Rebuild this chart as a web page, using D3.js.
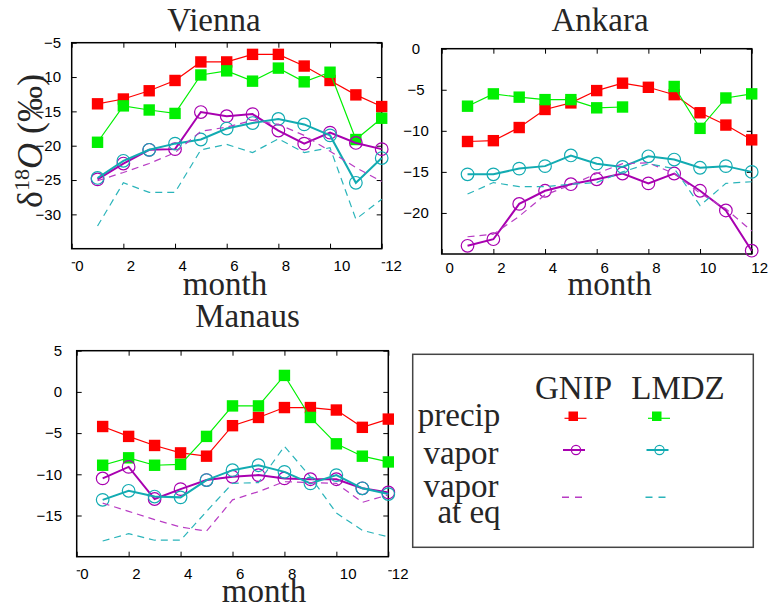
<!DOCTYPE html>
<html>
<head>
<meta charset="utf-8">
<script src="https://cdn.jsdelivr.net/npm/d3@7"></script>
<style>
  body { margin: 0; background: #fff; }
  svg { display: block; }
  .tick text { font-family: "Liberation Sans", Arial, sans-serif; font-size: 15px; fill: #000; }
  .serif { font-family: "Liberation Serif", "Times New Roman", serif; fill: #262626; }
</style>
</head>
<body>
<svg id="chart" width="775" height="604"></svg>
<script>
// ---- data: monthly mean delta-18O (permil) ----
const months = [1, 2, 3, 4, 5, 6, 7, 8, 9, 10, 11, 12];
const xTicks = [0, 2, 4, 6, 8, 10, 12];

// Vienna
const viennaGnipPrecip  = [-13.9, -13.2, -12.0, -10.5, -7.8, -7.8, -6.7, -6.7, -8.4, -10.5, -12.6, -14.3];
const viennaLmdzPrecip  = [-19.5, -14.2, -14.8, -15.3, -9.7, -9.1, -10.6, -8.7, -10.7, -9.3, -19.1, -16.0];
const viennaGnipVapor   = [-24.9, -22.6, -20.6, -20.5, -15.1, -15.7, -15.4, -17.8, -19.7, -18.1, -19.6, -20.5];
const viennaLmdzVapor   = [-24.7, -22.2, -20.6, -19.7, -19.1, -17.5, -16.7, -16.1, -16.9, -18.5, -25.4, -21.8];
const viennaGnipVaporEq = [-25.1, -23.9, -22.6, -21.0, -17.9, -17.3, -16.3, -16.9, -18.5, -20.8, -23.2, -25.2];
const viennaLmdzVaporEq = [-31.7, -25.4, -26.8, -26.8, -20.6, -19.8, -21.0, -19.0, -21.0, -20.3, -30.7, -27.8];
const viennaYTicks = [-30, -25, -20, -15, -10, -5];

// Ankara (no LMDZ precipitation value for August)
const ankaraGnipPrecip  = [-11.3, -11.2, -9.6, -7.4, -6.6, -5.1, -4.2, -4.7, -5.6, -7.8, -9.3, -11.1];
const ankaraLmdzPrecip  = [-7.0, -5.5, -5.9, -6.2, -6.2, -7.2, -7.1, null, -4.6, -9.7, -6.0, -5.5];
const ankaraGnipVapor   = [-24.0, -23.2, -18.9, -17.3, -16.5, -15.9, -15.2, -16.4, -15.2, -17.3, -19.7, -24.6];
const ankaraLmdzVapor   = [-15.3, -15.3, -14.6, -14.3, -13.0, -14.0, -14.4, -13.1, -13.5, -14.5, -14.3, -15.0];
const ankaraGnipVaporEq = [-22.9, -22.6, -20.4, -17.8, -16.6, -15.2, -14.0, -13.9, -15.2, -17.6, -19.5, -22.2];
const ankaraLmdzVaporEq = [-17.7, -16.3, -16.8, -16.8, -16.5, -16.3, -15.0, -14.0, -14.6, -19.1, -16.4, -16.2];
const ankaraYTicks = [-20, -15, -10, -5, 0];

// Manaus
const manausGnipPrecip  = [-4.2, -5.4, -6.5, -7.4, -7.8, -4.1, -3.1, -1.9, -1.9, -2.2, -4.3, -3.3];
const manausLmdzPrecip  = [-8.9, -8.0, -8.9, -8.8, -5.4, -1.7, -1.7, 2.0, -3.1, -6.3, -7.8, -8.5];
const manausGnipVapor   = [-10.5, -9.1, -13.0, -11.8, -10.7, -10.3, -10.1, -10.5, -10.6, -10.6, -11.7, -12.2];
const manausLmdzVapor   = [-13.1, -12.0, -12.7, -12.8, -10.7, -9.5, -8.9, -9.7, -11.1, -10.1, -11.7, -12.4];
const manausGnipVaporEq = [-13.5, -14.5, -15.5, -16.4, -16.9, -13.1, -12.1, -10.9, -11.0, -11.1, -13.4, -12.5];
const manausLmdzVaporEq = [-18.1, -17.2, -18.0, -18.0, -14.5, -11.1, -11.0, -6.6, -10.3, -14.7, -16.8, -17.6];
const manausYTicks = [-15, -10, -5, 0, 5];

// legend text
const legendColumns = ["GNIP", "LMDZ"];
const legendRows = ["precip", "vapor", "vapor", "at eq"];

// ---- styles ----
const RED = "#ff0000", GREEN = "#00f000", PURPLE = "#a800b0", TEAL = "#12abb2";
const PURPLE_DASH = "#b83cc4", TEAL_DASH = "#2ab4ba";

const svg = d3.select("#chart");

const panels = [
  { title: "Vienna", left: 71.7, right: 381.7, top: 42.7, bottom: 248.7, yDomain: [-35, -5], yTicks: viennaYTicks,
    titleX: 214, titleY: 30.5, monthX: 225, monthY: 295, yLabelAnchor: "end", yLabelX: 61,
    xLabelAnchor: "start", xLabelDx: 3, xLabelY: 12, edgeMarks: true,
    series: [viennaGnipPrecip, viennaLmdzPrecip, viennaGnipVapor, viennaLmdzVapor, viennaGnipVaporEq, viennaLmdzVaporEq] },
  { title: "Ankara", left: 441.7, right: 751.7, top: 48.7, bottom: 254, yDomain: [-25, 0], yTicks: ankaraYTicks,
    titleX: 600, titleY: 30.5, monthX: 609.7, monthY: 295, yLabelAnchor: "middle", yLabelX: 416,
    xLabelAnchor: "middle", xLabelDx: 7.5, xLabelY: 8, edgeMarks: false,
    series: [ankaraGnipPrecip, ankaraLmdzPrecip, ankaraGnipVapor, ankaraLmdzVapor, ankaraGnipVaporEq, ankaraLmdzVaporEq] },
  { title: "Manaus", left: 76.7, right: 388.3, top: 350.7, bottom: 556.7, yDomain: [-20, 5], yTicks: manausYTicks,
    titleX: 247.5, titleY: 327, monthX: 264, monthY: 602, yLabelAnchor: "end", yLabelX: 62,
    xLabelAnchor: "start", xLabelDx: 3, xLabelY: 12, edgeMarks: true,
    series: [manausGnipPrecip, manausLmdzPrecip, manausGnipVapor, manausLmdzVapor, manausGnipVaporEq, manausLmdzVaporEq] }
];

function drawPanel(p) {
  const x = d3.scaleLinear().domain([0, 12]).range([p.left, p.right]);
  const y = d3.scaleLinear().domain(p.yDomain).range([p.bottom, p.top]);
  const g = svg.append("g");

  // inward ticks on all four sides
  const bottom = g.append("g").attr("transform", `translate(0,${p.bottom})`)
    .call(d3.axisBottom(x).tickValues(xTicks).tickSize(-5).tickPadding(p.xLabelY).tickFormat(d3.format("d")));
  bottom.selectAll("text").attr("text-anchor", p.xLabelAnchor).attr("x", p.xLabelDx);
  g.append("g").attr("transform", `translate(0,${p.top})`)
    .call(d3.axisTop(x).tickValues(xTicks).tickSize(-5).tickFormat(""));
  const left = g.append("g").attr("transform", `translate(${p.left},0)`)
    .call(d3.axisLeft(y).tickValues(p.yTicks).tickSize(-5).tickFormat(d => d3.format("d")(d).replace("-", "\u2212")));
  left.selectAll("text").attr("text-anchor", p.yLabelAnchor).attr("x", p.yLabelX - p.left).attr("dy", "0.32em");
  g.append("g").attr("transform", `translate(${p.right},0)`)
    .call(d3.axisRight(y).tickValues(p.yTicks).tickSize(-5).tickFormat(""));
  g.selectAll(".domain").remove();
  g.selectAll(".tick line").attr("stroke", "#000").attr("stroke-width", 1);

  g.append("rect")
    .attr("x", p.left).attr("y", p.top)
    .attr("width", p.right - p.left).attr("height", p.bottom - p.top)
    .attr("fill", "none").attr("stroke", "#000").attr("stroke-width", 1.5);

  if (p.edgeMarks) {
    [p.left, p.right].forEach(ex => {
      g.append("line").attr("x1", ex).attr("x2", ex + 3.5)
        .attr("y1", p.bottom + 14).attr("y2", p.bottom + 14)
        .attr("stroke", "#333").attr("stroke-width", 1.3);
    });
  }

  const pts = arr => months.map((m, i) => ({ m, v: arr[i] }));
  const line = d3.line().defined(d => d.v != null).x(d => x(d.m)).y(d => y(d.v));

  const [gp, lp, gv, lv, ge, le] = p.series;

  // precipitation: filled squares
  [[gp, RED], [lp, GREEN]].forEach(([arr, col]) => {
    g.append("path").datum(pts(arr)).attr("d", line)
      .attr("fill", "none").attr("stroke", col).attr("stroke-width", 1.2);
    g.selectAll(null).data(pts(arr).filter(d => d.v != null)).enter().append("rect")
      .attr("x", d => x(d.m) - 5.7).attr("y", d => y(d.v) - 5.7)
      .attr("width", 11.4).attr("height", 11.4).attr("fill", col);
  });

  // vapour: open circles
  [[gv, PURPLE], [lv, TEAL]].forEach(([arr, col]) => {
    g.append("path").datum(pts(arr)).attr("d", line)
      .attr("fill", "none").attr("stroke", col).attr("stroke-width", 2);
    g.selectAll(null).data(pts(arr)).enter().append("circle")
      .attr("cx", d => x(d.m)).attr("cy", d => y(d.v)).attr("r", 6.3)
      .attr("fill", "none").attr("stroke", col).attr("stroke-width", 1.2);
  });

  // vapour in equilibrium with precipitation: dashed
  [[ge, PURPLE_DASH], [le, TEAL_DASH]].forEach(([arr, col]) => {
    g.append("path").datum(pts(arr)).attr("d", line)
      .attr("fill", "none").attr("stroke", col).attr("stroke-width", 1.2)
      .attr("stroke-dasharray", "7,5");
  });

  g.append("text").attr("class", "serif")
    .attr("x", p.titleX).attr("y", p.titleY).attr("text-anchor", "middle")
    .attr("font-size", 33).text(p.title);
  g.append("text").attr("class", "serif")
    .attr("x", p.monthX).attr("y", p.monthY).attr("text-anchor", "middle")
    .attr("font-size", 33).text("month");
}

panels.forEach(drawPanel);

// y-axis title
const yt = svg.append("text").attr("class", "serif")
  .attr("transform", "translate(42,141) rotate(-90)")
  .attr("text-anchor", "middle").attr("font-size", 36);
yt.append("tspan").text("\u03b4");
yt.append("tspan").attr("dy", -13).attr("font-size", 22).text("18");
yt.append("tspan").attr("dy", 13).attr("font-style", "italic").text("O");
yt.append("tspan").text(" (\u2030)");

// ---- legend ----
const lg = svg.append("g");
lg.append("rect").attr("x", 412.7).attr("y", 354.3).attr("width", 340.6).attr("height", 193)
  .attr("fill", "none").attr("stroke", "#444").attr("stroke-width", 1.5);

const colX = [573.5, 678];
legendColumns.forEach((t, i) => {
  lg.append("text").attr("class", "serif").attr("x", colX[i]).attr("y", 399)
    .attr("text-anchor", "middle").attr("font-size", 33).text(t);
});
const rowText = [
  { t: legendRows[0], x: 459, y: 426 },
  { t: legendRows[1], x: 461, y: 464 },
  { t: legendRows[2], x: 461, y: 497 },
  { t: legendRows[3], x: 469, y: 523 }
];
rowText.forEach(r => {
  lg.append("text").attr("class", "serif").attr("x", r.x).attr("y", r.y)
    .attr("text-anchor", "middle").attr("font-size", 33).text(r.t);
});

const mkX = [575, 658.5];
// precip sample
[[RED, 0], [GREEN, 1]].forEach(([col, i]) => {
  lg.append("line").attr("x1", mkX[i] - 10.5).attr("x2", mkX[i] + 11.5).attr("y1", 418.3).attr("y2", 418.3)
    .attr("stroke", col).attr("stroke-width", 1.2);
  lg.append("rect").attr("x", mkX[i] - 4.5 - 2).attr("y", 411.5).attr("width", 9.5).attr("height", 9.5).attr("fill", col);
});
// vapour sample
[[PURPLE, 0], [TEAL, 1]].forEach(([col, i]) => {
  lg.append("line").attr("x1", mkX[i] - 12).attr("x2", mkX[i] + 10).attr("y1", 450).attr("y2", 450)
    .attr("stroke", col).attr("stroke-width", 2);
  lg.append("circle").attr("cx", mkX[i] + 1).attr("cy", 450).attr("r", 4.6)
    .attr("fill", "none").attr("stroke", col).attr("stroke-width", 1.2);
});
// equilibrium sample
[[PURPLE_DASH, 0], [TEAL_DASH, 1]].forEach(([col, i]) => {
  lg.append("line").attr("x1", mkX[i] - 13).attr("x2", mkX[i] + 8.5).attr("y1", 497.3).attr("y2", 497.3)
    .attr("stroke", col).attr("stroke-width", 1.5).attr("stroke-dasharray", "7,6");
});
</script>
</body>
</html>
